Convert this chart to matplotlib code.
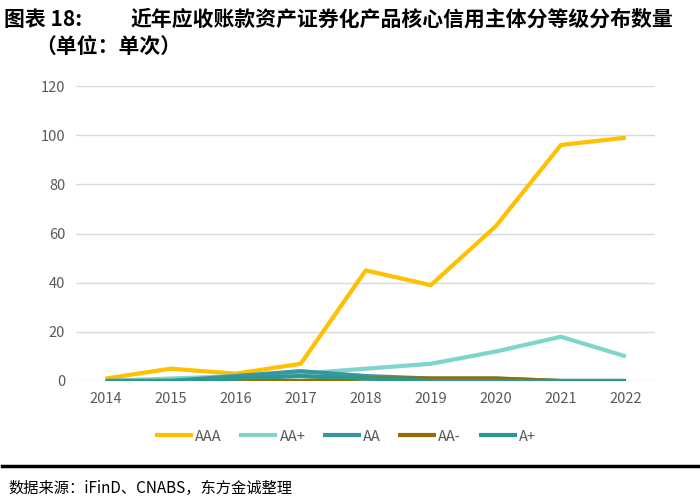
import matplotlib.pyplot as plt
import numpy as np

plt.rcParams['font.family'] = ['Noto Sans CJK SC', 'DejaVu Sans']

# data
years = ['2014', '2015', '2016', '2017', '2018', '2019', '2020', '2021', '2022']
aaa = [1, 5, 3, 7, 45, 39, 63, 96, 99]
aa_plus = [0, 1, 2, 3, 5, 7, 12, 18, 10]
aa = [0, 0, 2, 4, 2, 1, 1, 0, 0]
aa_minus = [0, 0, 0, 0, 1, 1, 1, 0, 0]
a_plus = [0, 0, 1, 2, 1, 0, 0, 0, 0]

series = [('AAA', aaa, '#FFC000'),
          ('AA+', aa_plus, '#7FD4CE'),
          ('AA', aa, '#3A95A2'),
          ('AA-', aa_minus, '#9C6A00'),
          ('A+', a_plus, '#2A9990')]

fig = plt.figure(figsize=(7, 5), dpi=100)
ax = fig.add_axes([0.109, 0.238, 0.827, 0.59])

x = np.arange(len(years))
for name, vals, col in series:
    ax.plot(x, vals, color=col, lw=3, label=name, solid_capstyle='butt')

ax.set_xlim(-0.45, len(years) - 0.55)
ax.set_ylim(0, 120)
ax.set_yticks(range(0, 121, 20))
ax.set_xticks(x)
ax.set_xticklabels(years)
ax.grid(axis='y', color='#D9D9D9', lw=1)
ax.set_axisbelow(True)
for s in ax.spines.values():
    s.set_visible(False)
ax.tick_params(length=0, colors='#595959', labelsize=10.5, pad=8)

ax.legend(loc='upper center', bbox_to_anchor=(0.465, -0.12), ncol=5, frameon=False,
          fontsize=10.5, labelcolor='#595959', handlelength=2.6, handletextpad=0.15,
          columnspacing=1.2)

# title
fig.text(0.006, 0.962, '图表 18:', fontsize=15, fontweight='bold', va='center')
fig.text(0.186, 0.962, '近年应收账款资产证券化产品核心信用主体分等级分布数量',
         fontsize=15, fontweight='bold', va='center')
fig.text(0.05, 0.908, '（单位：单次）', fontsize=15, fontweight='bold', va='center')

# bottom rule and source
fig.add_artist(plt.Line2D([0.003, 0.997], [0.068, 0.068], color='black', lw=2.5))
fig.text(0.012, 0.024, '数据来源：iFinD、CNABS，东方金诚整理', fontsize=11, va='center')

fig.savefig('out.png')
